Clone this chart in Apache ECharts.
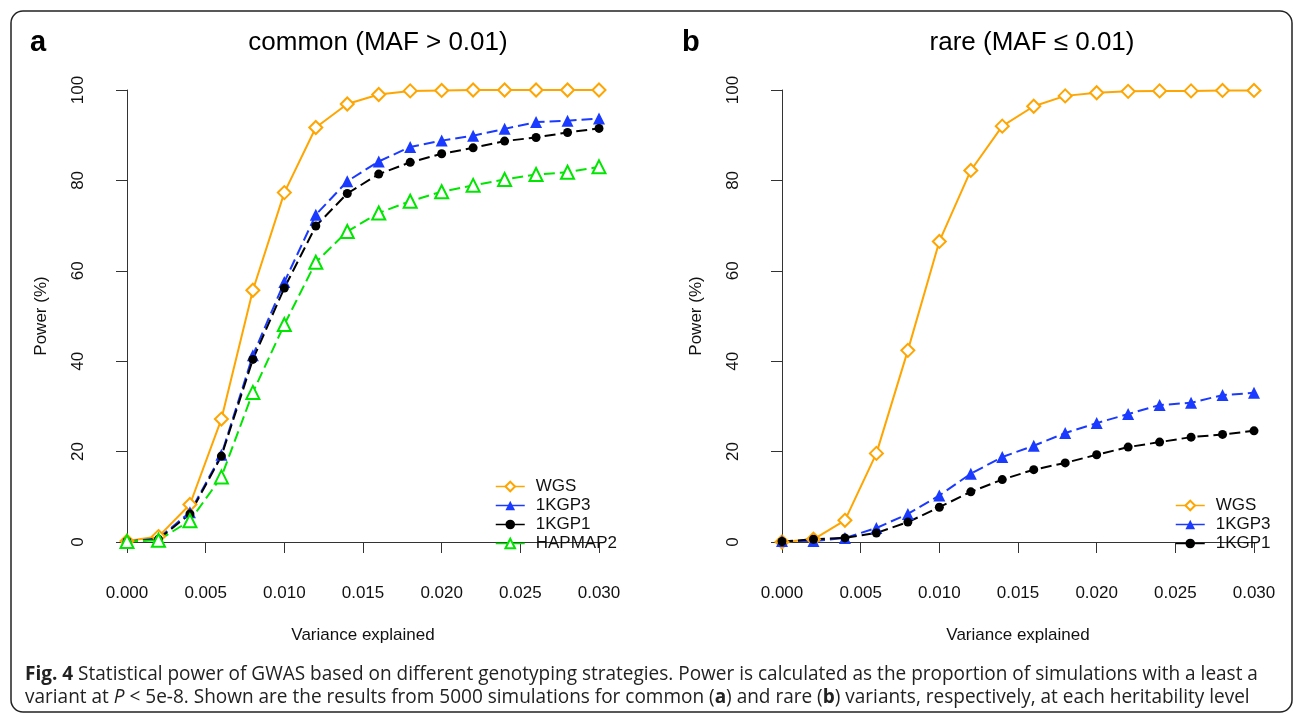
<!DOCTYPE html>
<html>
<head>
<meta charset="utf-8">
<script src="https://cdn.jsdelivr.net/npm/echarts@6/dist/echarts.min.js"></script>
<style>
  html, body { margin: 0; padding: 0; background: #fff; }
  #chart { width: 1293px; height: 715px; }
</style>
</head>
<body>
<div id="chart"></div>
<script>
// Variance explained (x) and simulated power (%) per genotyping strategy
const variance = [0.000, 0.002, 0.004, 0.006, 0.008, 0.010, 0.012, 0.014, 0.016, 0.018, 0.020, 0.022, 0.024, 0.026, 0.028, 0.030];

// panel a: common variants (MAF > 0.01)
const commonWGS     = [0.2, 1.2, 8.3, 27.2, 55.7, 77.3, 91.7, 96.9, 99.0, 99.8, 99.9, 100, 100, 100, 100, 100];
const common1KGP3   = [0.1, 0.8, 6.6, 19.3, 41.3, 57.5, 72.4, 79.8, 84.2, 87.4, 88.8, 89.9, 91.4, 92.9, 93.2, 93.7];
const common1KGP1   = [0.1, 0.6, 6.2, 19.0, 40.4, 56.2, 69.9, 77.1, 81.4, 84.0, 85.9, 87.2, 88.7, 89.5, 90.6, 91.5];
const commonHAPMAP2 = [0.1, 0.4, 4.7, 14.4, 33.1, 48.1, 61.9, 68.7, 72.8, 75.4, 77.5, 78.9, 80.2, 81.3, 81.8, 83.0];

// panel b: rare variants (MAF <= 0.01)
const rareWGS   = [0.0, 0.6, 4.8, 19.6, 42.4, 66.5, 82.2, 92.0, 96.4, 98.7, 99.4, 99.7, 99.8, 99.8, 99.9, 99.9];
const rare1KGP3 = [0.2, 0.2, 0.9, 3.1, 6.2, 10.3, 15.1, 18.8, 21.3, 24.1, 26.3, 28.3, 30.3, 30.8, 32.5, 33.0];
const rare1KGP1 = [0.1, 0.6, 0.9, 2.0, 4.4, 7.7, 11.1, 13.8, 16.0, 17.5, 19.3, 21.0, 22.1, 23.2, 23.8, 24.6];

const xTicks = { min: 0, max: 0.03, interval: 0.005 };
const yTicks = { min: 0, max: 100, interval: 20 };

const FONT = "'Liberation Sans', Arial, sans-serif";
const CAPTION_FONT = "'Open Sans', sans-serif";
const AXIS_COLOR = '#333';
const TEXT_COLOR = '#111';

const COLORS = { WGS: '#ffa500', '1KGP3': '#1a3aff', '1KGP1': '#000000', HAPMAP2: '#00e600' };

const pairs = (ys) => variance.map((x, i) => [x, ys[i]]);

function xAxisFor(gridIndex) {
  return {
    type: 'value', gridIndex,
    min: xTicks.min, max: xTicks.max, interval: xTicks.interval,
    offset: 19,
    name: 'Variance explained', nameLocation: 'middle', nameGap: 66,
    nameTextStyle: { fontFamily: FONT, fontSize: 17, color: TEXT_COLOR },
    axisLine: { show: true, lineStyle: { color: AXIS_COLOR, width: 1 } },
    axisTick: { show: true, length: 11, inside: false, lineStyle: { color: AXIS_COLOR } },
    axisLabel: { fontFamily: FONT, fontSize: 17, color: TEXT_COLOR, margin: 24,
      formatter: (v) => v.toFixed(3) },
    splitLine: { show: false }
  };
}

function yAxisFor(gridIndex) {
  return {
    type: 'value', gridIndex,
    min: yTicks.min, max: yTicks.max, interval: yTicks.interval,
    offset: 18,
    name: 'Power (%)', nameLocation: 'middle', nameGap: 59, nameRotate: 90,
    nameTextStyle: { fontFamily: FONT, fontSize: 17, color: TEXT_COLOR },
    axisLine: { show: true, lineStyle: { color: AXIS_COLOR, width: 1 } },
    axisTick: { show: true, length: 11, inside: false, lineStyle: { color: AXIS_COLOR } },
    axisLabel: { fontFamily: FONT, fontSize: 17, color: TEXT_COLOR, margin: 22, rotate: 90 },
    splitLine: { show: false }
  };
}

function lineSeries(name, ys, idx, symbol, size, dashed) {
  const hollow = symbol.startsWith('empty');
  return {
    name, type: 'line', xAxisIndex: idx, yAxisIndex: idx,
    data: pairs(ys),
    symbol, symbolSize: size,
    showAllSymbol: true, clip: false, animation: false,
    lineStyle: { color: COLORS[name], width: 2, type: dashed ? [11, 5] : 'solid' },
    itemStyle: hollow
      ? { color: COLORS[name], borderColor: COLORS[name], borderWidth: 2.2 }
      : { color: COLORS[name] },
    emphasis: { disabled: true }
  };
}

function legendFor(names, left, top) {
  return {
    data: names.map((n) => ({ name: n, lineStyle: { type: 'solid', width: 1.5 } })),
    orient: 'vertical', left, top,
    itemWidth: 29, itemHeight: 12, itemGap: 2,
    lineStyle: { type: 'solid', width: 1.5 },
    textStyle: { fontFamily: FONT, fontSize: 17, color: TEXT_COLOR, padding: [0, 0, 0, 6] },
    selectedMode: false
  };
}

const chart = echarts.init(document.getElementById('chart'), null, { renderer: 'canvas' });

chart.setOption({
  backgroundColor: '#fff',
  animation: false,
  grid: [
    { left: 127, top: 90, width: 472, height: 452 },
    { left: 782, top: 90, width: 472, height: 452 }
  ],
  xAxis: [xAxisFor(0), xAxisFor(1)],
  yAxis: [yAxisFor(0), yAxisFor(1)],
  legend: [
    legendFor(['WGS', '1KGP3', '1KGP1', 'HAPMAP2'], 490, 473),
    legendFor(['WGS', '1KGP3', '1KGP1'], 1170, 492)
  ],
  series: [
    lineSeries('WGS', commonWGS, 0, 'emptyDiamond', 13, false),
    lineSeries('1KGP3', common1KGP3, 0, 'triangle', 12, true),
    lineSeries('1KGP1', common1KGP1, 0, 'circle', 9, true),
    lineSeries('HAPMAP2', commonHAPMAP2, 0, 'emptyTriangle', 13, true),
    lineSeries('WGS', rareWGS, 1, 'emptyDiamond', 13, false),
    lineSeries('1KGP3', rare1KGP3, 1, 'triangle', 12, true),
    lineSeries('1KGP1', rare1KGP1, 1, 'circle', 9, true)
  ],
  graphic: [
    { type: 'rect', silent: true, z: -1,
      shape: { x: 11, y: 11, width: 1281, height: 701, r: 12 },
      style: { fill: 'none', stroke: '#222', lineWidth: 1.5 } },
    { type: 'text', left: 30, top: 28,
      style: { text: 'a', fontFamily: FONT, fontSize: 29, fontWeight: 'bold', fill: '#000' } },
    { type: 'text', left: 682, top: 28,
      style: { text: 'b', fontFamily: FONT, fontSize: 29, fontWeight: 'bold', fill: '#000' } },
    { type: 'text', x: 378, y: 43,
      style: { text: 'common (MAF > 0.01)', fontFamily: FONT, fontSize: 26, fill: '#000',
               align: 'center', verticalAlign: 'middle' } },
    { type: 'text', x: 1032, y: 43,
      style: { text: 'rare (MAF ≤ 0.01)', fontFamily: FONT, fontSize: 26, fill: '#000',
               align: 'center', verticalAlign: 'middle' } },
    { type: 'text', x: 25, y: 674, scaleX: 0.95,
      style: {
        text: '{b|Fig. 4} Statistical power of GWAS based on different genotyping strategies. Power is calculated as the proportion of simulations with a least a',
        fontFamily: CAPTION_FONT, fontSize: 20, fill: '#222', verticalAlign: 'middle',
        rich: { b: { fontFamily: CAPTION_FONT, fontSize: 20, fontWeight: 'bold', fill: '#222' } }
      } },
    { type: 'text', x: 25, y: 697, scaleX: 0.95,
      style: {
        text: 'variant at {i|P} < 5e-8. Shown are the results from 5000 simulations for common ({b|a}) and rare ({b|b}) variants, respectively, at each heritability level',
        fontFamily: CAPTION_FONT, fontSize: 20, fill: '#222', verticalAlign: 'middle',
        rich: {
          b: { fontFamily: CAPTION_FONT, fontSize: 20, fontWeight: 'bold', fill: '#222' },
          i: { fontFamily: CAPTION_FONT, fontSize: 20, fontStyle: 'italic', fill: '#222' }
        }
      } }
  ]
});
</script>
</body>
</html>
